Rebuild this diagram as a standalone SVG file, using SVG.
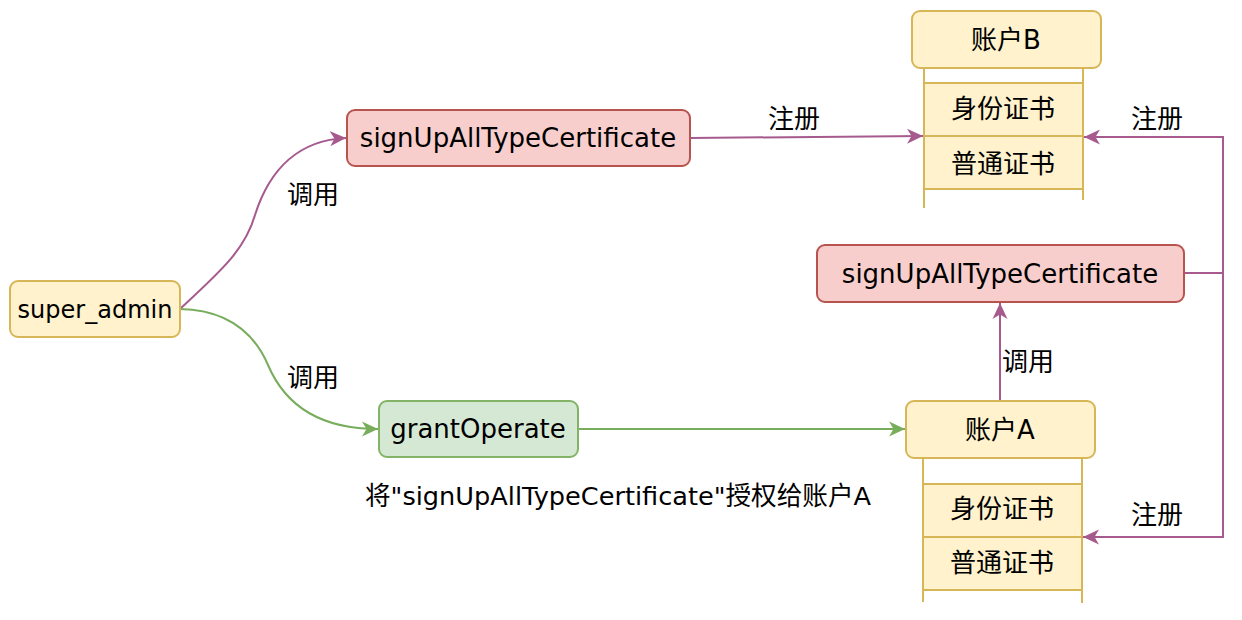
<svg xmlns="http://www.w3.org/2000/svg" width="1242" height="620" viewBox="0 0 1242 620">
<style>
.t{font-family:"DejaVu Sans","Noto Sans CJK SC",sans-serif;font-size:26px;fill:#000;text-anchor:middle}
.y{fill:#fff2cc;stroke:#d6b656;stroke-width:2}
.r{fill:#f8cecc;stroke:#b85450;stroke-width:2}
.g{fill:#d5e8d4;stroke:#82b366;stroke-width:2}
.ln{fill:none;stroke:#d6b656;stroke-width:2}
.pe{fill:none;stroke:#a65a8e;stroke-width:2}
.ge{fill:none;stroke:#78ad5c;stroke-width:2}
</style>
<defs>
<marker id="ap" markerUnits="userSpaceOnUse" markerWidth="18" markerHeight="18" refX="16" refY="9" orient="auto"><path d="M0,1.5 L16,9 L0,16.5 L4.5,9 Z" fill="#a65a8e"/></marker>
<marker id="ag" markerUnits="userSpaceOnUse" markerWidth="18" markerHeight="18" refX="16" refY="9" orient="auto"><path d="M0,1.5 L16,9 L0,16.5 L4.5,9 Z" fill="#78ad5c"/></marker>
</defs>
<rect width="1242" height="620" fill="#fff"/>
<g id="connectors">
<path class="pe" d="M180,309 C220,272 245,250 255,215 C270,168 300,140 346,138" marker-end="url(#ap)"/>
<path class="ge" d="M180,309 C230,310 255,335 268,365 C285,405 320,429 378,429" marker-end="url(#ag)"/>
<path class="pe" d="M690,138 L923,136" marker-end="url(#ap)"/>
<path class="ge" d="M578,429 L905,429" marker-end="url(#ag)"/>
<path class="pe" d="M1000,401 L1000,303" marker-end="url(#ap)"/>
<path class="pe" d="M1184,273 L1223,273 L1223,137 L1084,137" marker-end="url(#ap)"/>
<path class="pe" d="M1184,273 L1223,273 L1223,537 L1083,537" marker-end="url(#ap)"/>
<text class="t" x="313" y="204">调用</text>
<text class="t" x="313" y="387">调用</text>
<text class="t" x="794" y="128">注册</text>
<text class="t" x="1028" y="371">调用</text>
<text class="t" x="1157" y="128">注册</text>
<text class="t" x="1157" y="524">注册</text>
</g>
<g id="super_admin">
<rect class="y" x="10" y="281" width="170" height="56" rx="8"/>
<text class="t" x="95" y="318" style="font-size:24px">super_admin</text>
</g>
<g id="signup_top">
<rect class="r" x="347" y="110" width="343" height="56" rx="8"/>
<text class="t" x="518" y="147">signUpAllTypeCertificate</text>
</g>
<g id="grantOperate">
<rect class="g" x="379" y="401" width="199" height="56" rx="8"/>
<text class="t" x="478" y="438">grantOperate</text>
</g>
<g id="grant_note">
<text class="t" x="618" y="505" style="font-size:25.6px">将"signUpAllTypeCertificate"授权给账户A</text>
</g>
<g id="signup_right">
<rect class="r" x="817" y="245" width="367" height="57" rx="8"/>
<text class="t" x="1000" y="283">signUpAllTypeCertificate</text>
</g>
<g id="accountB">
<path class="ln" d="M924,68 L924,208 M1083,68 L1083,200"/>
<rect class="y" x="924" y="83" width="159" height="53"/>
<rect class="y" x="924" y="136" width="159" height="53"/>
<rect class="y" x="912" y="11" width="189" height="57" rx="8"/>
<text class="t" x="1006" y="49">账户B</text>
<text class="t" x="1003" y="118">身份证书</text>
<text class="t" x="1003" y="173">普通证书</text>
</g>
<g id="accountA">
<path class="ln" d="M923,458 L923,602 M1082,458 L1082,603"/>
<rect class="y" x="923" y="484" width="159" height="53"/>
<rect class="y" x="923" y="537" width="159" height="53"/>
<rect class="y" x="906" y="401" width="189" height="57" rx="8"/>
<text class="t" x="1000" y="439">账户A</text>
<text class="t" x="1002" y="518">身份证书</text>
<text class="t" x="1002" y="572">普通证书</text>
</g>
</svg>
